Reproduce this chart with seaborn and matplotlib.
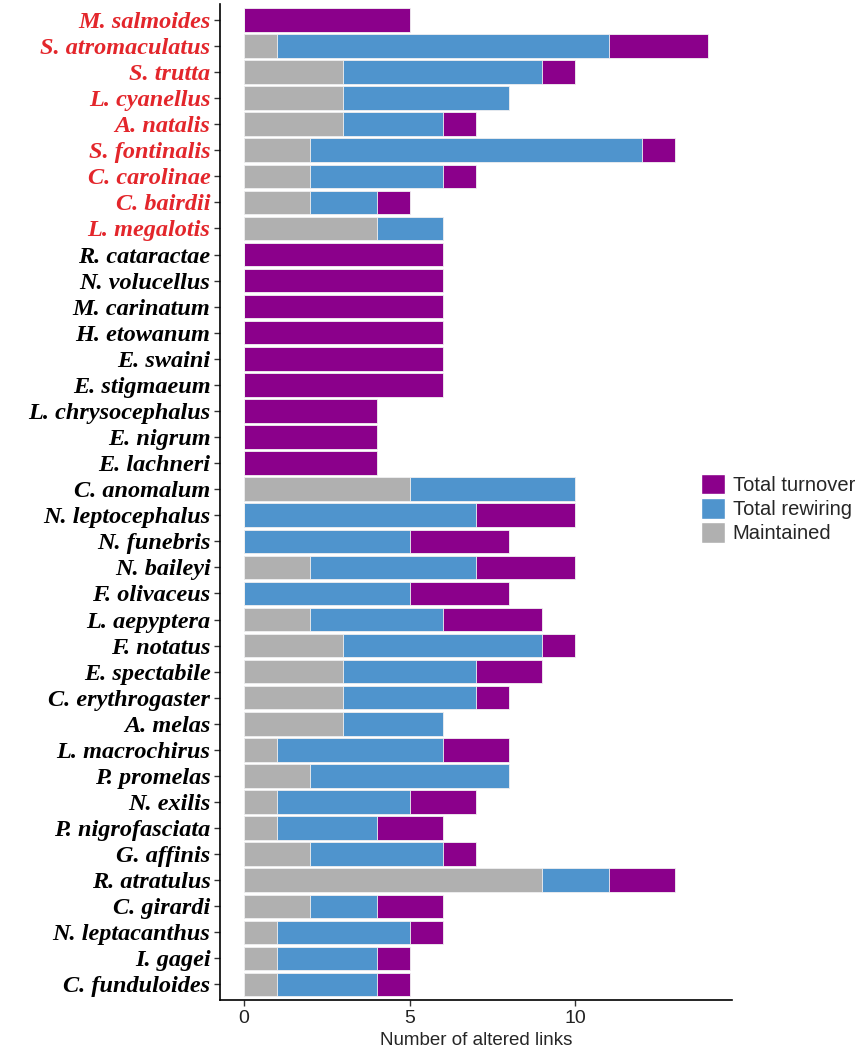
import matplotlib
matplotlib.use("Agg")
import matplotlib.pyplot as plt
import seaborn as sns
import pandas as pd
import numpy as np
from matplotlib.patches import Patch

species = [
    "M. salmoides", "S. atromaculatus", "S. trutta", "L. cyanellus", "A. natalis",
    "S. fontinalis", "C. carolinae", "C. bairdii", "L. megalotis", "R. cataractae",
    "N. volucellus", "M. carinatum", "H. etowanum", "E. swaini", "E. stigmaeum",
    "L. chrysocephalus", "E. nigrum", "E. lachneri", "C. anomalum", "N. leptocephalus",
    "N. funebris", "N. baileyi", "F. olivaceus", "L. aepyptera", "F. notatus",
    "E. spectabile", "C. erythrogaster", "A. melas", "L. macrochirus", "P. promelas",
    "N. exilis", "P. nigrofasciata", "G. affinis", "R. atratulus", "C. girardi",
    "N. leptacanthus", "I. gagei", "C. funduloides",
]
maintained = [0, 1, 3, 3, 3, 2, 2, 2, 4, 0,
              0, 0, 0, 0, 0, 0, 0, 0, 5, 0,
              0, 2, 0, 2, 3, 3, 3, 3, 1, 2,
              1, 1, 2, 9, 2, 1, 1, 1]
rewiring = [0, 10, 6, 5, 3, 10, 4, 2, 2, 0,
            0, 0, 0, 0, 0, 0, 0, 0, 5, 7,
            5, 5, 5, 4, 6, 4, 4, 3, 5, 6,
            4, 3, 4, 2, 2, 4, 3, 3]
turnover = [5, 3, 1, 0, 1, 1, 1, 1, 0, 6,
            6, 6, 6, 6, 6, 4, 4, 4, 0, 3,
            3, 3, 3, 3, 1, 2, 1, 0, 2, 0,
            2, 2, 1, 2, 2, 1, 1, 1]
# species shown in red (introduced)
n_red = 9

col_turn = "#8B008B"
col_rew = "#4F94CD"
col_main = "#B0B0B0"

df = pd.DataFrame({"species": species, "maintained": maintained,
                   "rewiring": rewiring, "turnover": turnover})
df["m_r"] = df["maintained"] + df["rewiring"]
df["total"] = df["m_r"] + df["turnover"]

sns.set_style("ticks")

fig = plt.figure(figsize=(8.67, 10.55), dpi=100)
ax = fig.add_axes([0.254, 0.052, 0.59, 0.944])

# layered stacking: total first, then partial sums on top
for col, color in [("total", col_turn), ("m_r", col_rew), ("maintained", col_main)]:
    sns.barplot(data=df, x=col, y="species", order=species, color=color,
                orient="h", width=0.9, edgecolor="#F2F2F2", linewidth=0.6,
                saturation=1, ax=ax)

ax.set_xlim(-0.72, 14.72)
ax.set_ylim(len(species) - 0.4, -0.6)
ax.set_xticks([0, 5, 10])
ax.set_xlabel("Number of altered links", fontsize=13.5, family="Liberation Sans",
              labelpad=4)
ax.set_ylabel("")

ax.tick_params(axis="x", labelsize=14, length=4, width=1, color="#333333",
               labelcolor="#222222", pad=3)
ax.tick_params(axis="y", length=4, width=1, color="#333333", pad=3)
for lab in ax.get_xticklabels():
    lab.set_family("Liberation Sans")
for i, lab in enumerate(ax.get_yticklabels()):
    lab.set_family("Liberation Serif")
    lab.set_style("italic")
    lab.set_weight("bold")
    lab.set_fontsize(17.5)
    lab.set_color("#E3262B" if i < n_red else "black")

sns.despine(ax=ax)
for s in ["left", "bottom"]:
    ax.spines[s].set_linewidth(1.2)
    ax.spines[s].set_color("black")

handles = [Patch(facecolor=col_turn, edgecolor="white", label="Total turnover"),
           Patch(facecolor=col_rew, edgecolor="white", label="Total rewiring"),
           Patch(facecolor=col_main, edgecolor="white", label="Maintained")]
leg = fig.legend(handles=handles, loc="center left", bbox_to_anchor=(0.808, 0.518),
                 frameon=False, prop={"family": "Liberation Sans", "size": 14.5},
                 handlelength=1.2, handleheight=1.2, handletextpad=0.4,
                 labelspacing=0.15, borderaxespad=0, borderpad=0)

fig.savefig("out.png", dpi=100)
